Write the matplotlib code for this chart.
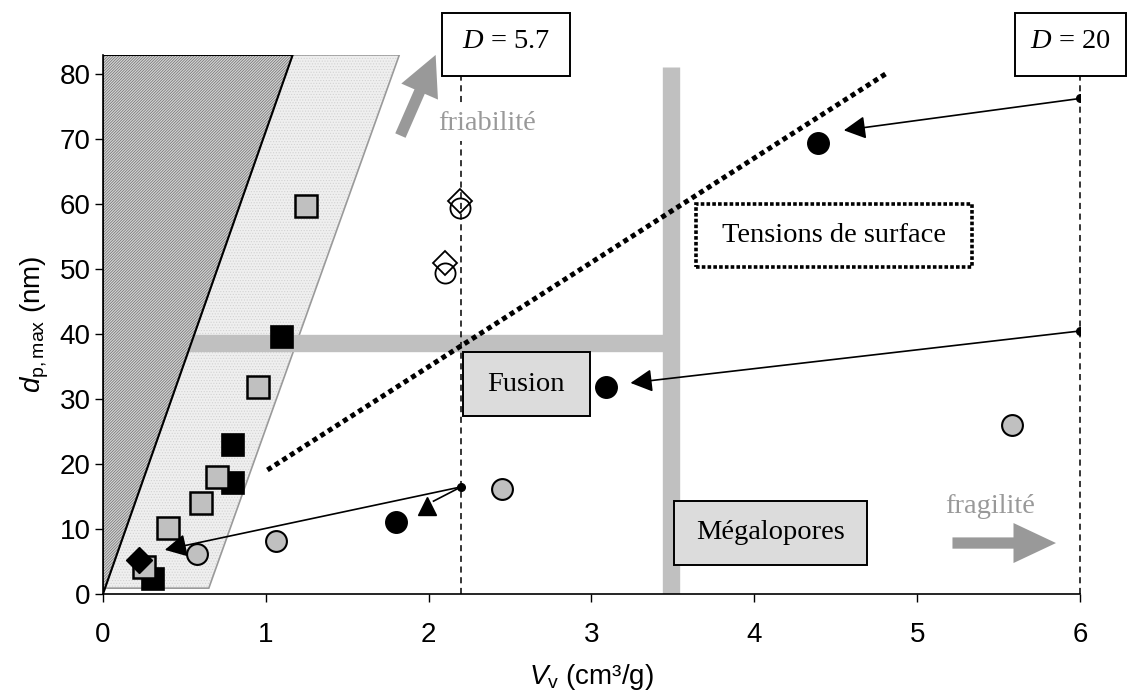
import numpy as np
import matplotlib
matplotlib.use("Agg")
import matplotlib.pyplot as plt
from matplotlib.patches import Polygon, Rectangle, FancyArrowPatch

plt.rcParams['font.family'] = ['Liberation Sans', 'DejaVu Sans']
plt.rcParams['mathtext.fontset'] = 'custom'
plt.rcParams['mathtext.rm'] = 'Liberation Sans'
plt.rcParams['mathtext.it'] = 'Liberation Sans:italic'
plt.rcParams['mathtext.cal'] = 'Liberation Serif:italic'
plt.rcParams['hatch.linewidth'] = 0.5

# --- data: pore volume Vv (cm3/g) vs max pore diameter dp,max (nm) ---
gray_sq_x = [0.25, 0.40, 0.60, 0.70, 0.95, 1.25]
gray_sq_y = [4.2, 10.2, 14.0, 18.0, 31.8, 59.7]
black_sq_x = [0.31, 0.80, 0.80, 1.10]
black_sq_y = [2.3, 17.1, 22.9, 39.5]
black_dia_x = [0.22]
black_dia_y = [5.2]
black_tri_x = [1.99]
black_tri_y = [13.6]
gray_circ_x = [0.58, 1.06, 2.45, 5.58]
gray_circ_y = [6.1, 8.2, 16.1, 26.0]
black_circ_x = [1.80, 3.09, 4.39]
black_circ_y = [11.1, 31.8, 69.5]
open_circ_x = [2.10, 2.19]
open_circ_y = [49.5, 59.4]
open_dia_x = [2.10, 2.19]
open_dia_y = [50.9, 60.5]

# reference points on the D = 5.7 and D = 20 lines, and where their arrows land
ref_x = [2.2, 6.0, 6.0]
ref_y = [16.5, 76.3, 40.5]
arrow_to_x = [0.38, 4.55, 3.24]
arrow_to_y = [6.8, 71.4, 32.5]

D_values = [5.7, 20]
D_lines_x = [2.2, 6.0]

ymax = 83

fig = plt.figure(figsize=(11.35, 6.95), dpi=100)
ax = fig.add_axes([0.0907, 0.1453, 0.8608, 0.7756])
ax.set_xlim(0, 6)
ax.set_ylim(0, ymax)

# --- shaded domains ---
light_pts = [(0, 0.9), (0.65, 0.9), (1.82, ymax), (1.165, ymax), (0, 0)]
ax.add_patch(Polygon(light_pts, closed=True, facecolor='#efefef',
                     edgecolor='#d2d2d2', hatch='......', linewidth=0, zorder=1))
ax.add_patch(Polygon(light_pts, closed=True, facecolor='none',
                     edgecolor='#9a9a9a', linewidth=1.2, zorder=1))

# thick gray bands
ax.plot([0.3, 3.49], [38.7, 38.7], color='#c0c0c0', lw=12.5,
        solid_capstyle='butt', zorder=2)
ax.plot([3.49, 3.49], [0, 81.2], color='#c0c0c0', lw=12.5,
        solid_capstyle='butt', zorder=2)

dark_pts = [(0, 0), (0, ymax), (1.165, ymax)]
ax.add_patch(Polygon(dark_pts, closed=True, facecolor='#d4d4d4',
                     edgecolor='#6e6e6e', hatch='////////////', linewidth=0, zorder=3))
ax.add_patch(Polygon(dark_pts, closed=True, facecolor='none',
                     edgecolor='black', linewidth=1.5, zorder=3))

# --- D lines ---
for xd in D_lines_x:
    ax.plot([xd, xd], [0, 79.7], color='black', lw=1.1,
            linestyle=(0, (4, 3)), zorder=4, clip_on=False)

# surface tension trend
ax.plot([1.01, 4.82], [19.1, 80.3], color='black', lw=3.6,
        linestyle=(0, (1, 0.8)), zorder=4)

# arrows from reference points
for x0, y0, x1, y1 in zip(ref_x, ref_y, arrow_to_x, arrow_to_y):
    ax.annotate('', xy=(x1, y1), xytext=(x0, y0),
                arrowprops=dict(arrowstyle='-|>,head_length=0.95,head_width=0.5',
                                mutation_scale=14, color='black', lw=1.2,
                                shrinkA=0, shrinkB=0), zorder=5)
ax.plot([2.2, 2.03], [16.5, 14.3], color='black', lw=1.2, zorder=5)
ax.plot(ref_x, ref_y, 'o', color='black', ms=5.5, zorder=6)

# --- markers ---
ax.plot(black_sq_x, black_sq_y, 's', ms=15.5, mfc='black', mec='black', mew=1.2, zorder=6)
ax.plot(gray_sq_x, gray_sq_y, 's', ms=15.5, mfc='#c0c0c0', mec='black', mew=1.8, zorder=7)
ax.plot(black_dia_x, black_dia_y, 'D', ms=13, mfc='black', mec='black', zorder=8)
ax.plot(black_tri_x, black_tri_y, '^', ms=13, mfc='black', mec='black', zorder=8)
ax.plot(gray_circ_x, gray_circ_y, 'o', ms=15, mfc='#c0c0c0', mec='black', mew=1.5, zorder=7)
ax.plot(black_circ_x, black_circ_y, 'o', ms=15.5, mfc='black', mec='black', zorder=7)
ax.plot(open_circ_x, open_circ_y, 'o', ms=14.5, mfc='none', mec='black', mew=1.3, zorder=7)
ax.plot(open_dia_x, open_dia_y, 'D', ms=12.5, mfc='none', mec='black', mew=1.3, zorder=7)

# --- boxes ---
serif = ['Liberation Serif', 'DejaVu Serif']


def box(x0, x1, y0, y1, label, face='white', ls='-', lw=1.4, ty=None):
    r = Rectangle((x0, y0), x1 - x0, y1 - y0, facecolor=face, edgecolor='black',
                  linewidth=lw, linestyle=ls, zorder=9, clip_on=False)
    ax.add_patch(r)
    ax.text((x0 + x1) / 2, ty if ty is not None else (y0 + y1) / 2, label,
            ha='center', va='center', fontsize=20.5, family=serif,
            zorder=10, clip_on=False)


box(2.21, 2.99, 27.4, 37.2, 'Fusion', face='#dcdcdc')
box(3.51, 4.69, 4.5, 14.3, 'Mégalopores', face='#dcdcdc')
box(3.64, 5.34, 50.3, 60.0, 'Tensions de surface', ls=(0, (1, 0.6)), lw=2.6)
box(2.08, 2.87, 79.7, 89.4, r'$\mathcal{D}$ = ' + str(D_values[0]), ty=85.0)
box(5.60, 6.28, 79.7, 89.4, r'$\mathcal{D}$ = ' + str(D_values[1]), ty=85.0)

# --- gray trend arrows and captions ---
ax.add_patch(FancyArrowPatch((1.82, 70.2), (2.05, 83.4),
                             arrowstyle='simple,head_length=1.6,head_width=1.6,tail_width=0.45',
                             mutation_scale=18, color='#999999', lw=0,
                             zorder=5, clip_on=False))
ax.text(2.36, 72.5, 'friabilité', ha='center', va='center', fontsize=20.5,
        family=serif, color='#999999', zorder=6,
        bbox=dict(facecolor='white', edgecolor='none', pad=4))
ax.add_patch(FancyArrowPatch((5.20, 7.85), (5.87, 7.85),
                             arrowstyle='simple,head_length=1.7,head_width=1.6,tail_width=0.45',
                             mutation_scale=18, color='#999999', lw=0, zorder=5))
ax.text(5.45, 13.5, 'fragilité', ha='center', va='center', fontsize=20.5,
        family=serif, color='#999999', zorder=6)

# --- axes styling ---
for s in ['top', 'right']:
    ax.spines[s].set_visible(False)
ax.spines['left'].set_linewidth(1.2)
ax.spines['bottom'].set_linewidth(1.2)
ax.set_xticks(np.arange(0, 7, 1))
ax.set_yticks(np.arange(0, 90, 10))
ax.tick_params(direction='out', length=6, width=1, labelsize=20)
ax.tick_params(axis='x', pad=14)
ax.tick_params(axis='y', pad=3)
ax.set_xlabel(r'$V_{\mathrm{v}}$ (cm³/g)', fontsize=20, labelpad=10)
ax.set_ylabel(r'$d_{\mathrm{p,max}}$ (nm)', fontsize=20, labelpad=6)

fig.savefig('out.png', dpi=100)
